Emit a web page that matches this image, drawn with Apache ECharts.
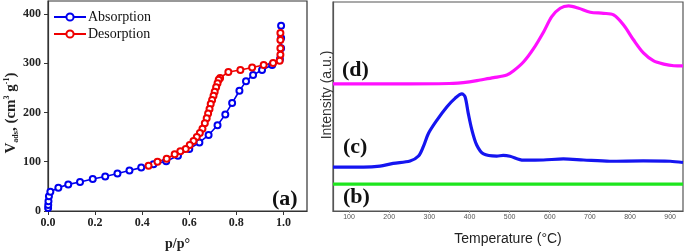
<!DOCTYPE html>
<html><head><meta charset="utf-8">
<script src="https://cdn.jsdelivr.net/npm/echarts@6/dist/echarts.min.js"></script>
<style>html,body{margin:0;padding:0;background:#fff}#c{width:685px;height:252px}</style>
</head><body><div id="c"></div>
<script>
// Panel (a): N2 isotherm
const absP = [0.0005,0.001,0.002,0.004,0.01,0.044,0.086,0.136,0.19,0.243,0.295,0.346,0.396,0.448,0.502,0.552,0.600,0.643,0.682,0.720,0.753,0.782,0.813,0.841,0.871,0.909,0.952,0.985,0.99,0.99,0.99];
const absV = [6,12,20,30,39,47,54,59,65,70,76,82,88,95,101,112,126,139,154,174,196,219,244,263,276,286,296,308,330,351,376];
const desP = [0.987,0.987,0.987,0.987,0.984,0.956,0.916,0.867,0.817,0.766,0.731,0.725,0.720,0.714,0.708,0.703,0.697,0.691,0.686,0.680,0.674,0.666,0.656,0.645,0.632,0.618,0.602,0.585,0.562,0.538,0.504,0.465,0.427];
const desV = [361,347,330,317,305,300,296,291,286,282,270,266,259,251,242,234,225,217,207,198,188,178,167,158,150,142,134,126,121,115,106,100,92];
const pTicks = [0.0,0.2,0.4,0.6,0.8,1.0];
const vTicks = [0,100,200,300,400];

// Panel right: TPD curves
const tempTicks = [100,200,300,400,500,600,700,800,900];
const bT = [60,932];
const bV = [12.9,12.9];
const cT = [60,136,177,210,252,273,285,298,319,344,364,381,389,397,406,418,435,468,484,501,534,584,634,684,750,833,900,932];
const cV = [21,21,21.5,22.8,23.9,26.3,30.8,37.2,43.5,49.9,53.9,56,54.7,46.7,38.8,31.6,27.3,26.3,26.6,26.2,24.3,24.4,24.9,24.4,23.8,24,23.8,23.2];
const dT = [60,200,350,400,427,460,493,510,535,560,585,605,626,647,672,701,734,759,784,809,834,859,884,909,932];
const dV = [60.8,60.8,61,61.8,62.7,63.8,65.1,67.1,71.4,77.8,85.8,93,97,98.1,97,95.1,94.6,93.8,89,81.8,75.5,71.8,70.3,69.5,69.4];

const zip = (a,b) => a.map((x,i)=>[x,b[i]]);
const serif = 'Liberation Serif';
const sans = 'Liberation Sans';

const chart = echarts.init(document.getElementById('c'), null, {renderer:'canvas'});
chart.setOption({
  animation:false,
  backgroundColor:'#fff',
  grid:[
    {left:48,right:378,top:1,bottom:41,outerBoundsMode:'none',containLabel:false,show:true,borderColor:'#333',borderWidth:1.2,backgroundColor:'transparent'},
    {left:333,right:2,top:2,bottom:41,outerBoundsMode:'none',containLabel:false,show:true,borderColor:'#555',borderWidth:1.2,backgroundColor:'transparent'}
  ],
  legend:{
    orient:'vertical',left:53,top:10,padding:0,itemWidth:32,itemHeight:9,itemGap:3,
    textStyle:{fontFamily:serif,fontSize:14,color:'#111',padding:[0,0,0,-3]},
    data:['Absorption','Desorption']
  },
  xAxis:[
    {gridIndex:0,type:'value',min:0,max:1.1,
      axisLine:{lineStyle:{color:'#333',width:1.2}},
      axisTick:{length:4,lineStyle:{color:'#333'},customValues:pTicks},
      axisLabel:{customValues:pTicks,formatter:v=>v.toFixed(1),fontFamily:serif,fontWeight:'bold',fontSize:12,color:'#222',margin:6},
      splitLine:{show:false},
      name:'p/p°',nameLocation:'middle',nameGap:26,
      nameTextStyle:{fontFamily:serif,fontWeight:'bold',fontSize:14,color:'#222'}},
    {gridIndex:1,type:'value',min:60,max:932,
      axisLine:{lineStyle:{color:'#555',width:1.2}},
      axisTick:{show:true,length:2,inside:false,lineStyle:{color:'#999'},customValues:tempTicks},
      axisLabel:{customValues:tempTicks,fontFamily:sans,fontSize:7,color:'#555',margin:3},
      splitLine:{show:false},
      name:'Temperature (°C)',nameLocation:'middle',nameGap:21,
      nameTextStyle:{fontFamily:sans,fontSize:14,color:'#222'}}
  ],
  yAxis:[
    {gridIndex:0,type:'value',min:0,max:426,
      axisLine:{lineStyle:{color:'#333',width:1.2}},
      axisTick:{length:4,lineStyle:{color:'#333'},customValues:vTicks},
      axisLabel:{customValues:vTicks,fontFamily:serif,fontWeight:'bold',fontSize:12,color:'#222',margin:7},
      splitLine:{show:false}},
    {gridIndex:1,type:'value',min:0,max:100,
      axisLine:{lineStyle:{color:'#555',width:1.2}},
      axisTick:{show:false},axisLabel:{show:false},splitLine:{show:false}}
  ],
  series:[
    {name:'Absorption',type:'line',xAxisIndex:0,yAxisIndex:0,data:zip(absP,absV),
      symbol:'emptyCircle',symbolSize:6,color:'#0000ee',
      lineStyle:{width:1.6,color:'#0000ee'},itemStyle:{color:'#0000ee',borderWidth:3,borderColor:'#0000ee'}},
    {name:'Desorption',type:'line',xAxisIndex:0,yAxisIndex:0,data:zip(desP,desV),
      symbol:'emptyCircle',symbolSize:6,color:'#ee0000',
      lineStyle:{width:1.6,color:'#ee0000'},itemStyle:{color:'#ee0000',borderWidth:3,borderColor:'#ee0000'}},
    {name:'b',type:'line',xAxisIndex:1,yAxisIndex:1,data:zip(bT,bV),showSymbol:false,
      lineStyle:{width:3.2,color:'#1ee61e'}},
    {name:'c',type:'line',xAxisIndex:1,yAxisIndex:1,data:zip(cT,cV),showSymbol:false,smooth:0.3,
      lineStyle:{width:3.2,color:'#1515f0'}},
    {name:'d',type:'line',xAxisIndex:1,yAxisIndex:1,data:zip(dT,dV),showSymbol:false,smooth:0.3,
      lineStyle:{width:3.2,color:'#ff10ff'}}
  ],
  graphic:[
    {type:'text',x:11,y:113,rotation:Math.PI/2,style:{
      text:'{b|V}{s|ads}{b|, (cm}{p|3}{b| g}{p|-1}{b|)}',align:'center',verticalAlign:'middle',
      rich:{
        b:{fontFamily:serif,fontWeight:'bold',fontSize:15,fill:'#222',lineHeight:17,verticalAlign:'middle'},
        s:{fontFamily:serif,fontWeight:'bold',fontSize:8,fill:'#222',lineHeight:17,verticalAlign:'bottom'},
        p:{fontFamily:serif,fontWeight:'bold',fontSize:8,fill:'#222',lineHeight:17,verticalAlign:'top'}
      }}},
    {type:'text',left:272,top:188,style:{text:'(a)',font:'bold 22px "Liberation Serif"',fill:'#111'}},
    {type:'text',left:342,top:59,style:{text:'(d)',font:'bold 22px "Liberation Serif"',fill:'#111'}},
    {type:'text',left:343,top:136,style:{text:'(c)',font:'bold 22px "Liberation Serif"',fill:'#111'}},
    {type:'text',left:343,top:186,style:{text:'(b)',font:'bold 22px "Liberation Serif"',fill:'#111'}},
    {type:'text',x:327,y:95,rotation:Math.PI/2,style:{text:'Intensity (a.u.)',font:'14px "Liberation Sans"',fill:'#333',align:'center',verticalAlign:'middle'}}
  ]
});
</script></body></html>
